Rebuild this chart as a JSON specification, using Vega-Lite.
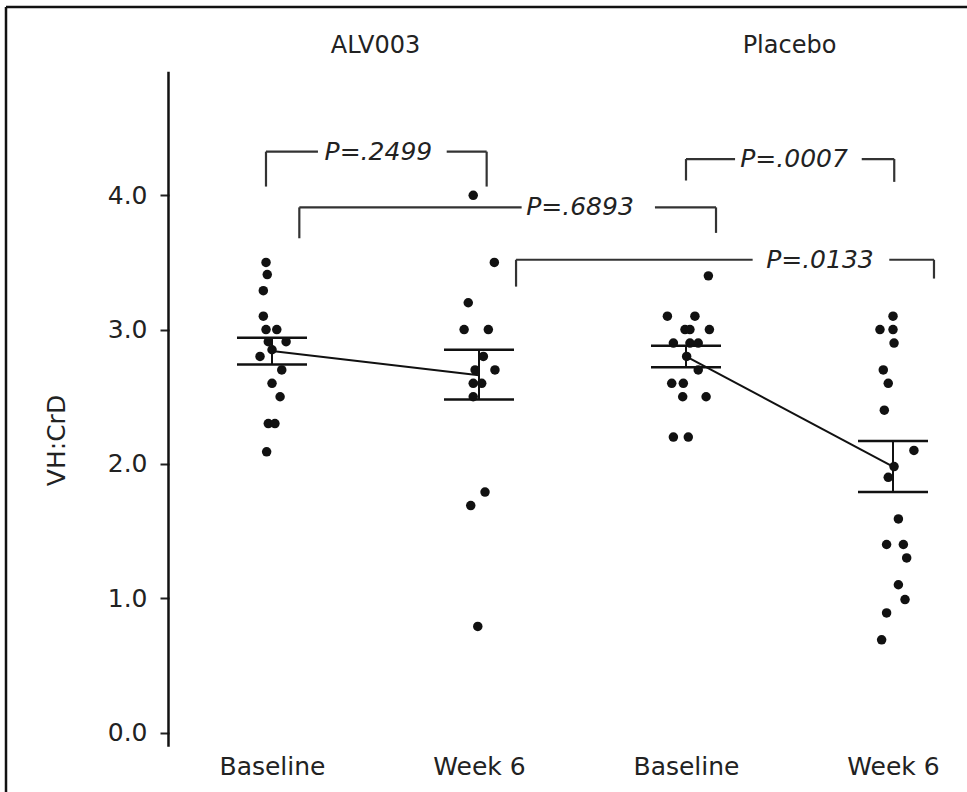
{
  "$schema": "https://vega.github.io/schema/vega-lite/v6.json",
  "width": 961,
  "height": 785,
  "autosize": {"type": "none"},
  "padding": {"left": 6, "top": 7, "right": 0, "bottom": 0},
  "background": "white",
  "config": {
    "view": {"stroke": null},
    "font": "DejaVu Sans",
    "axis": {"grid": false},
    "axisY": {
      "offset": -163, "domain": false, "ticks": true, "tickSize": 9, "tickWidth": 2, "tickColor": "#222222",
      "labelFontSize": 25, "labelColor": "#222222", "labelPadding": 13, "labelFont": "DejaVu Sans",
      "titleFontSize": 25, "titleFontWeight": "normal", "titleColor": "#222222", "titleFont": "DejaVu Sans",
      "titleX": -100, "titleY": 433
    },
    "axisX": {
      "domain": false, "ticks": false, "grid": false, "offset": -38,
      "labelPadding": 0, "labelFontSize": 25, "labelColor": "#222222", "labelFont": "DejaVu Sans",
      "labelFlush": false, "labelOverlap": false
    }
  },
  "datasets": {
    "points": [
      {"group": "ALV003", "time": "Baseline", "slot": 1, "value": 3.50, "jitter": -0.029},
      {"group": "ALV003", "time": "Baseline", "slot": 1, "value": 3.41, "jitter": -0.023},
      {"group": "ALV003", "time": "Baseline", "slot": 1, "value": 3.29, "jitter": -0.042},
      {"group": "ALV003", "time": "Baseline", "slot": 1, "value": 3.10, "jitter": -0.042},
      {"group": "ALV003", "time": "Baseline", "slot": 1, "value": 3.00, "jitter": -0.029},
      {"group": "ALV003", "time": "Baseline", "slot": 1, "value": 3.00, "jitter": 0.023},
      {"group": "ALV003", "time": "Baseline", "slot": 1, "value": 2.91, "jitter": -0.018},
      {"group": "ALV003", "time": "Baseline", "slot": 1, "value": 2.91, "jitter": 0.068},
      {"group": "ALV003", "time": "Baseline", "slot": 1, "value": 2.85, "jitter": 0.0},
      {"group": "ALV003", "time": "Baseline", "slot": 1, "value": 2.80, "jitter": -0.058},
      {"group": "ALV003", "time": "Baseline", "slot": 1, "value": 2.70, "jitter": 0.047},
      {"group": "ALV003", "time": "Baseline", "slot": 1, "value": 2.60, "jitter": 0.0},
      {"group": "ALV003", "time": "Baseline", "slot": 1, "value": 2.50, "jitter": 0.039},
      {"group": "ALV003", "time": "Baseline", "slot": 1, "value": 2.30, "jitter": -0.018},
      {"group": "ALV003", "time": "Baseline", "slot": 1, "value": 2.30, "jitter": 0.014},
      {"group": "ALV003", "time": "Baseline", "slot": 1, "value": 2.09, "jitter": -0.026},
      {"group": "ALV003", "time": "Week 6", "slot": 2, "value": 4.00, "jitter": -0.028},
      {"group": "ALV003", "time": "Week 6", "slot": 2, "value": 3.50, "jitter": 0.074},
      {"group": "ALV003", "time": "Week 6", "slot": 2, "value": 3.20, "jitter": -0.052},
      {"group": "ALV003", "time": "Week 6", "slot": 2, "value": 3.00, "jitter": -0.072},
      {"group": "ALV003", "time": "Week 6", "slot": 2, "value": 3.00, "jitter": 0.045},
      {"group": "ALV003", "time": "Week 6", "slot": 2, "value": 2.80, "jitter": 0.021},
      {"group": "ALV003", "time": "Week 6", "slot": 2, "value": 2.70, "jitter": -0.019},
      {"group": "ALV003", "time": "Week 6", "slot": 2, "value": 2.70, "jitter": 0.077},
      {"group": "ALV003", "time": "Week 6", "slot": 2, "value": 2.60, "jitter": -0.028},
      {"group": "ALV003", "time": "Week 6", "slot": 2, "value": 2.60, "jitter": 0.013},
      {"group": "ALV003", "time": "Week 6", "slot": 2, "value": 2.50, "jitter": -0.028},
      {"group": "ALV003", "time": "Week 6", "slot": 2, "value": 1.79, "jitter": 0.029},
      {"group": "ALV003", "time": "Week 6", "slot": 2, "value": 1.69, "jitter": -0.040},
      {"group": "ALV003", "time": "Week 6", "slot": 2, "value": 0.79, "jitter": -0.006},
      {"group": "Placebo", "time": "Baseline", "slot": 3, "value": 3.40, "jitter": 0.108},
      {"group": "Placebo", "time": "Baseline", "slot": 3, "value": 3.10, "jitter": -0.090},
      {"group": "Placebo", "time": "Baseline", "slot": 3, "value": 3.10, "jitter": 0.043},
      {"group": "Placebo", "time": "Baseline", "slot": 3, "value": 3.00, "jitter": -0.005},
      {"group": "Placebo", "time": "Baseline", "slot": 3, "value": 3.00, "jitter": 0.019},
      {"group": "Placebo", "time": "Baseline", "slot": 3, "value": 3.00, "jitter": 0.113},
      {"group": "Placebo", "time": "Baseline", "slot": 3, "value": 2.90, "jitter": -0.061},
      {"group": "Placebo", "time": "Baseline", "slot": 3, "value": 2.90, "jitter": 0.019},
      {"group": "Placebo", "time": "Baseline", "slot": 3, "value": 2.90, "jitter": 0.059},
      {"group": "Placebo", "time": "Baseline", "slot": 3, "value": 2.80, "jitter": 0.003},
      {"group": "Placebo", "time": "Baseline", "slot": 3, "value": 2.70, "jitter": 0.059},
      {"group": "Placebo", "time": "Baseline", "slot": 3, "value": 2.60, "jitter": -0.069},
      {"group": "Placebo", "time": "Baseline", "slot": 3, "value": 2.60, "jitter": -0.013},
      {"group": "Placebo", "time": "Baseline", "slot": 3, "value": 2.50, "jitter": -0.016},
      {"group": "Placebo", "time": "Baseline", "slot": 3, "value": 2.50, "jitter": 0.097},
      {"group": "Placebo", "time": "Baseline", "slot": 3, "value": 2.20, "jitter": -0.061},
      {"group": "Placebo", "time": "Baseline", "slot": 3, "value": 2.20, "jitter": 0.011},
      {"group": "Placebo", "time": "Week 6", "slot": 4, "value": 3.10, "jitter": 0.0},
      {"group": "Placebo", "time": "Week 6", "slot": 4, "value": 3.00, "jitter": -0.063},
      {"group": "Placebo", "time": "Week 6", "slot": 4, "value": 3.00, "jitter": 0.0},
      {"group": "Placebo", "time": "Week 6", "slot": 4, "value": 2.90, "jitter": 0.005},
      {"group": "Placebo", "time": "Week 6", "slot": 4, "value": 2.70, "jitter": -0.047},
      {"group": "Placebo", "time": "Week 6", "slot": 4, "value": 2.60, "jitter": -0.023},
      {"group": "Placebo", "time": "Week 6", "slot": 4, "value": 2.40, "jitter": -0.042},
      {"group": "Placebo", "time": "Week 6", "slot": 4, "value": 2.10, "jitter": 0.101},
      {"group": "Placebo", "time": "Week 6", "slot": 4, "value": 1.98, "jitter": 0.005},
      {"group": "Placebo", "time": "Week 6", "slot": 4, "value": 1.90, "jitter": -0.023},
      {"group": "Placebo", "time": "Week 6", "slot": 4, "value": 1.59, "jitter": 0.026},
      {"group": "Placebo", "time": "Week 6", "slot": 4, "value": 1.40, "jitter": -0.031},
      {"group": "Placebo", "time": "Week 6", "slot": 4, "value": 1.40, "jitter": 0.050},
      {"group": "Placebo", "time": "Week 6", "slot": 4, "value": 1.30, "jitter": 0.066},
      {"group": "Placebo", "time": "Week 6", "slot": 4, "value": 1.10, "jitter": 0.026},
      {"group": "Placebo", "time": "Week 6", "slot": 4, "value": 0.99, "jitter": 0.058},
      {"group": "Placebo", "time": "Week 6", "slot": 4, "value": 0.89, "jitter": -0.031},
      {"group": "Placebo", "time": "Week 6", "slot": 4, "value": 0.69, "jitter": -0.055}
    ],
    "summary": [
      {"group": "ALV003", "time": "Baseline", "slot": 1, "mean": 2.84, "lo": 2.74, "hi": 2.94},
      {"group": "ALV003", "time": "Week 6", "slot": 2, "mean": 2.66, "lo": 2.48, "hi": 2.85},
      {"group": "Placebo", "time": "Baseline", "slot": 3, "mean": 2.80, "lo": 2.72, "hi": 2.88},
      {"group": "Placebo", "time": "Week 6", "slot": 4, "mean": 1.98, "lo": 1.79, "hi": 2.17}
    ],
    "comparisons": [
      {"p": "P=.2499", "left": 0.971, "right": 2.037, "top": 4.325, "leftLow": 4.065, "rightLow": 4.065, "gapL": 1.222, "gapR": 1.844, "labelX": 1.514},
      {"p": "P=.6893", "left": 1.132, "right": 3.145, "top": 3.91, "leftLow": 3.68, "rightLow": 3.72, "gapL": 2.206, "gapR": 2.85, "labelX": 2.488},
      {"p": "P=.0007", "left": 3.0, "right": 4.006, "top": 4.27, "leftLow": 4.11, "rightLow": 4.10, "gapL": 3.237, "gapR": 3.849, "labelX": 3.522},
      {"p": "P=.0133", "left": 2.179, "right": 4.198, "top": 3.52, "leftLow": 3.32, "rightLow": 3.38, "gapL": 3.322, "gapR": 3.982, "labelX": 3.647}
    ],
    "arms": [
      {"arm": "ALV003", "center": 1.5},
      {"arm": "Placebo", "center": 3.5}
    ],
    "blank": [{}]
  },
  "resolve": {"scale": {"x": "independent"}},
  "layer": [
    {
      "data": {"name": "points"},
      "mark": {"type": "circle", "size": 90, "opacity": 1, "color": "#111111"},
      "encoding": {
        "x": {"field": "slot", "type": "ordinal", "scale": {"type": "point", "domain": [1, 2, 3, 4], "padding": 0.8213, "align": 0.7824}, "axis": null},
        "xOffset": {"field": "jitter", "type": "quantitative", "scale": {"domain": [-0.5, 0.5], "range": [-103.5, 103.5]}},
        "y": {
          "field": "value", "type": "quantitative",
          "scale": {"domain": [-0.443, 5.402], "nice": false, "zero": false},
          "axis": {"title": "VH:CrD", "values": [0, 1, 2, 3, 4], "format": ".1f"}
        }
      }
    },
    {
      "layer": [
        {
          "data": {"name": "summary"},
          "mark": {"type": "line", "color": "#111111", "strokeWidth": 2},
          "encoding": {
            "x": {
              "field": "slot", "type": "quantitative",
              "scale": {"domain": [-0.285, 4.3575], "nice": false, "zero": false},
              "axis": {"values": [1, 2, 3, 4], "labelExpr": "datum.value % 2 == 1 ? 'Baseline' : 'Week 6'", "title": null}
            },
            "y": {"field": "mean", "type": "quantitative", "scale": {"domain": [-0.443, 5.402], "nice": false, "zero": false}, "axis": {"title": "VH:CrD", "values": [0, 1, 2, 3, 4], "format": ".1f"}},
            "detail": {"field": "group"}
          }
        },
        {
          "data": {"name": "summary"},
          "mark": {"type": "rule", "color": "#111111", "strokeWidth": 2},
          "encoding": {
            "x": {"field": "slot", "type": "quantitative", "scale": {"domain": [-0.285, 4.3575], "nice": false, "zero": false}, "axis": {"values": [1, 2, 3, 4], "labelExpr": "datum.value % 2 == 1 ? 'Baseline' : 'Week 6'", "title": null}},
            "y": {"field": "lo", "type": "quantitative", "scale": {"domain": [-0.443, 5.402], "nice": false, "zero": false}, "axis": {"title": "VH:CrD", "values": [0, 1, 2, 3, 4], "format": ".1f"}},
            "y2": {"field": "hi"}
          }
        },
        {
          "data": {"name": "summary"},
          "mark": {"type": "rule", "color": "#111111", "strokeWidth": 2.5, "xOffset": -35, "x2Offset": 35},
          "encoding": {
            "x": {"field": "slot", "type": "quantitative", "scale": {"domain": [-0.285, 4.3575], "nice": false, "zero": false}, "axis": {"values": [1, 2, 3, 4], "labelExpr": "datum.value % 2 == 1 ? 'Baseline' : 'Week 6'", "title": null}},
            "x2": {"field": "slot"},
            "y": {"field": "lo", "type": "quantitative", "scale": {"domain": [-0.443, 5.402], "nice": false, "zero": false}, "axis": {"title": "VH:CrD", "values": [0, 1, 2, 3, 4], "format": ".1f"}}
          }
        },
        {
          "data": {"name": "summary"},
          "mark": {"type": "rule", "color": "#111111", "strokeWidth": 2.5, "xOffset": -35, "x2Offset": 35},
          "encoding": {
            "x": {"field": "slot", "type": "quantitative", "scale": {"domain": [-0.285, 4.3575], "nice": false, "zero": false}, "axis": {"values": [1, 2, 3, 4], "labelExpr": "datum.value % 2 == 1 ? 'Baseline' : 'Week 6'", "title": null}},
            "x2": {"field": "slot"},
            "y": {"field": "hi", "type": "quantitative", "scale": {"domain": [-0.443, 5.402], "nice": false, "zero": false}, "axis": {"title": "VH:CrD", "values": [0, 1, 2, 3, 4], "format": ".1f"}}
          }
        },
        {
          "data": {"name": "comparisons"},
          "mark": {"type": "rule", "color": "#333333", "strokeWidth": 2.2},
          "encoding": {
            "x": {"field": "left", "type": "quantitative", "scale": {"domain": [-0.285, 4.3575], "nice": false, "zero": false}, "axis": {"values": [1, 2, 3, 4], "labelExpr": "datum.value % 2 == 1 ? 'Baseline' : 'Week 6'", "title": null}},
            "y": {"field": "leftLow", "type": "quantitative", "scale": {"domain": [-0.443, 5.402], "nice": false, "zero": false}, "axis": {"title": "VH:CrD", "values": [0, 1, 2, 3, 4], "format": ".1f"}},
            "y2": {"field": "top"}
          }
        },
        {
          "data": {"name": "comparisons"},
          "mark": {"type": "rule", "color": "#333333", "strokeWidth": 2.2},
          "encoding": {
            "x": {"field": "right", "type": "quantitative", "scale": {"domain": [-0.285, 4.3575], "nice": false, "zero": false}, "axis": {"values": [1, 2, 3, 4], "labelExpr": "datum.value % 2 == 1 ? 'Baseline' : 'Week 6'", "title": null}},
            "y": {"field": "rightLow", "type": "quantitative", "scale": {"domain": [-0.443, 5.402], "nice": false, "zero": false}, "axis": {"title": "VH:CrD", "values": [0, 1, 2, 3, 4], "format": ".1f"}},
            "y2": {"field": "top"}
          }
        },
        {
          "data": {"name": "comparisons"},
          "mark": {"type": "rule", "color": "#333333", "strokeWidth": 2.2},
          "encoding": {
            "x": {"field": "left", "type": "quantitative", "scale": {"domain": [-0.285, 4.3575], "nice": false, "zero": false}, "axis": {"values": [1, 2, 3, 4], "labelExpr": "datum.value % 2 == 1 ? 'Baseline' : 'Week 6'", "title": null}},
            "x2": {"field": "gapL"},
            "y": {"field": "top", "type": "quantitative", "scale": {"domain": [-0.443, 5.402], "nice": false, "zero": false}, "axis": {"title": "VH:CrD", "values": [0, 1, 2, 3, 4], "format": ".1f"}}
          }
        },
        {
          "data": {"name": "comparisons"},
          "mark": {"type": "rule", "color": "#333333", "strokeWidth": 2.2},
          "encoding": {
            "x": {"field": "gapR", "type": "quantitative", "scale": {"domain": [-0.285, 4.3575], "nice": false, "zero": false}, "axis": {"values": [1, 2, 3, 4], "labelExpr": "datum.value % 2 == 1 ? 'Baseline' : 'Week 6'", "title": null}},
            "x2": {"field": "right"},
            "y": {"field": "top", "type": "quantitative", "scale": {"domain": [-0.443, 5.402], "nice": false, "zero": false}, "axis": {"title": "VH:CrD", "values": [0, 1, 2, 3, 4], "format": ".1f"}}
          }
        },
        {
          "data": {"name": "comparisons"},
          "mark": {"type": "text", "font": "DejaVu Sans", "fontStyle": "italic", "fontSize": 25, "color": "#222222", "baseline": "middle", "align": "center"},
          "encoding": {
            "x": {"field": "labelX", "type": "quantitative", "scale": {"domain": [-0.285, 4.3575], "nice": false, "zero": false}, "axis": {"values": [1, 2, 3, 4], "labelExpr": "datum.value % 2 == 1 ? 'Baseline' : 'Week 6'", "title": null}},
            "y": {"field": "top", "type": "quantitative", "scale": {"domain": [-0.443, 5.402], "nice": false, "zero": false}, "axis": {"title": "VH:CrD", "values": [0, 1, 2, 3, 4], "format": ".1f"}},
            "text": {"field": "p"}
          }
        },
        {
          "data": {"name": "arms"},
          "mark": {"type": "text", "font": "DejaVu Sans", "fontSize": 24, "color": "#222222", "baseline": "middle", "align": "center"},
          "encoding": {
            "x": {"field": "center", "type": "quantitative", "scale": {"domain": [-0.285, 4.3575], "nice": false, "zero": false}, "axis": {"values": [1, 2, 3, 4], "labelExpr": "datum.value % 2 == 1 ? 'Baseline' : 'Week 6'", "title": null}},
            "y": {"datum": 5.112, "type": "quantitative", "scale": {"domain": [-0.443, 5.402], "nice": false, "zero": false}, "axis": {"title": "VH:CrD", "values": [0, 1, 2, 3, 4], "format": ".1f"}},
            "text": {"field": "arm"}
          }
        },
        {
          "data": {"name": "blank"},
          "mark": {"type": "rule", "color": "#111111", "strokeWidth": 2.5},
          "encoding": {
            "x": {"datum": 0.5, "type": "quantitative", "scale": {"domain": [-0.285, 4.3575], "nice": false, "zero": false}, "axis": {"values": [1, 2, 3, 4], "labelExpr": "datum.value % 2 == 1 ? 'Baseline' : 'Week 6'", "title": null}},
            "y": {"datum": -0.106, "type": "quantitative", "scale": {"domain": [-0.443, 5.402], "nice": false, "zero": false}, "axis": {"title": "VH:CrD", "values": [0, 1, 2, 3, 4], "format": ".1f"}},
            "y2": {"datum": 4.92}
          }
        },
        {
          "data": {"name": "blank"},
          "mark": {"type": "rule", "color": "#111111", "strokeWidth": 2.5},
          "encoding": {
            "x": {"datum": -0.285, "type": "quantitative", "scale": {"domain": [-0.285, 4.3575], "nice": false, "zero": false}, "axis": {"values": [1, 2, 3, 4], "labelExpr": "datum.value % 2 == 1 ? 'Baseline' : 'Week 6'", "title": null}},
            "y": {"datum": -0.443, "type": "quantitative", "scale": {"domain": [-0.443, 5.402], "nice": false, "zero": false}, "axis": {"title": "VH:CrD", "values": [0, 1, 2, 3, 4], "format": ".1f"}},
            "y2": {"datum": 5.402}
          }
        },
        {
          "data": {"name": "blank"},
          "mark": {"type": "rule", "color": "#111111", "strokeWidth": 2.5},
          "encoding": {
            "x": {"datum": -0.285, "type": "quantitative", "scale": {"domain": [-0.285, 4.3575], "nice": false, "zero": false}, "axis": {"values": [1, 2, 3, 4], "labelExpr": "datum.value % 2 == 1 ? 'Baseline' : 'Week 6'", "title": null}},
            "x2": {"datum": 4.3575},
            "y": {"datum": 5.402, "type": "quantitative", "scale": {"domain": [-0.443, 5.402], "nice": false, "zero": false}, "axis": {"title": "VH:CrD", "values": [0, 1, 2, 3, 4], "format": ".1f"}}
          }
        }
      ]
    }
  ]
}
